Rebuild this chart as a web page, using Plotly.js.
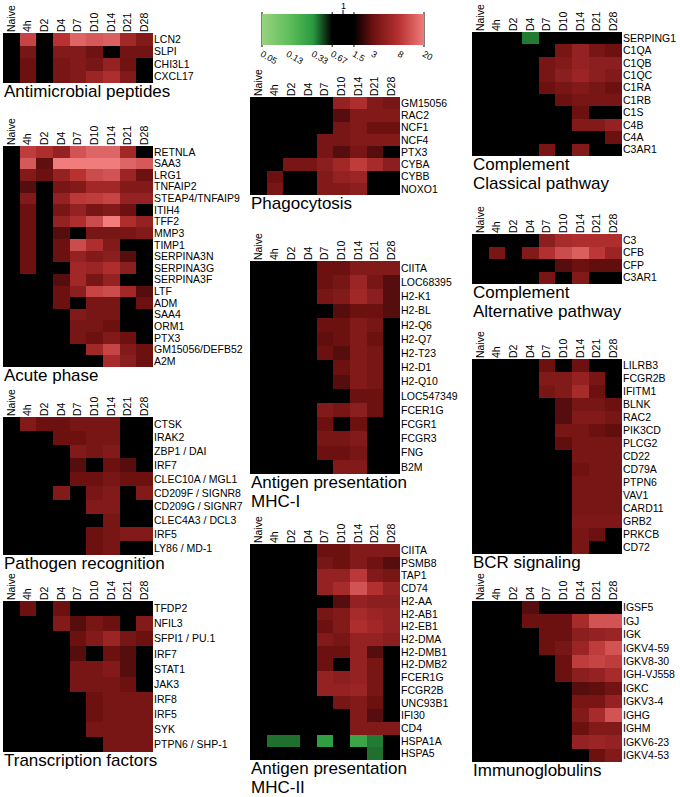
<!DOCTYPE html>
<html>
<head>
<meta charset="utf-8">
<script src="https://cdn.plot.ly/plotly-3.0.1.min.js"></script>
<style>
  html, body { margin: 0; padding: 0; background: #fff; }
  #chart { width: 680px; height: 797px; }
</style>
</head>
<body>
<div id="chart"></div>
<script>
// time points (columns of every heatmap)
const timepoints = ['Naive', '4h', 'D2', 'D4', 'D7', 'D10', 'D14', 'D21', 'D28'];

// fold change vs naive (1 = no change / black)
const amGenes = ['LCN2', 'SLPI', 'CHI3L1', 'CXCL17'];
const amFold = [
  [1, 10, 1, 8, 15, 13, 14, 6, 4],
  [1, 3.5, 1, 4, 4, 3.2, 1, 3.3, 3.3],
  [1, 3, 1, 3.5, 4, 3.5, 5, 3.2, 1],
  [1, 3, 1, 3.5, 4, 5.5, 7, 4, 1]
];

const apGenes = ['RETNLA', 'SAA3', 'LRG1', 'TNFAIP2', 'STEAP4/TNFAIP9', 'ITIH4', 'TFF2', 'MMP3', 'TIMP1',
  'SERPINA3N', 'SERPINA3G', 'SERPINA3F', 'LTF', 'ADM', 'SAA4', 'ORM1', 'PTX3', 'GM15056/DEFB52', 'A2M'];
const apFold = [
  [1, 9, 7, 5, 12, 15, 15, 6, 1],
  [1, 13, 2.8, 20, 20, 20, 20, 15, 13],
  [1, 4, 3, 5, 8, 11, 12, 5.5, 3],
  [1, 2.6, 1, 3.5, 4, 6, 6, 4, 4],
  [1, 4, 1, 5, 8.5, 9, 10, 5, 5],
  [1, 3, 1, 3.5, 5, 3.5, 4, 3, 1],
  [1, 3, 1, 5, 7, 11, 20, 7, 5],
  [1, 3, 1, 2.6, 1, 3.5, 3.5, 3.5, 4],
  [1, 3, 1, 3, 11, 7, 4, 1, 1],
  [1, 3, 1, 3, 5, 4, 4.5, 2.6, 1],
  [1, 3, 1, 1, 6, 5.5, 7, 4.5, 1],
  [1, 1, 1, 2.6, 6, 3.5, 5, 1, 1],
  [1, 1, 1, 3, 4.5, 10, 11, 6, 2.6],
  [1, 1, 1, 3, 1, 3.5, 3.5, 1, 3],
  [1, 1, 1, 1, 4, 3.5, 3.5, 1, 1],
  [1, 1, 1, 1, 3.5, 3.5, 3, 1, 1],
  [1, 1, 1, 1, 3.5, 3, 4, 3, 1],
  [1, 1, 1, 1, 1, 6, 10, 4, 3],
  [1, 1, 1, 1, 1, 1, 6.5, 4.5, 3]
];

const prGenes = ['CTSK', 'IRAK2', 'ZBP1 / DAI', 'IRF7', 'CLEC10A / MGL1', 'CD209F / SIGNR8',
  'CD209G / SIGNR7', 'CLEC4A3 / DCL3', 'IRF5', 'LY86 / MD-1'];
const prFold = [
  [1, 4, 3, 3, 3.5, 3.5, 3.5, 1, 1],
  [1, 1, 1, 3, 3, 3.5, 3.5, 1, 1],
  [1, 1, 1, 1, 4, 3.5, 4, 1, 1],
  [1, 1, 1, 1, 2.6, 1, 3, 2.6, 1],
  [1, 1, 1, 1, 3, 3, 3.5, 3, 3],
  [1, 1, 1, 4, 1, 3.5, 4, 1, 4],
  [1, 1, 1, 1, 1, 4, 4, 1, 1],
  [1, 1, 1, 1, 1, 1, 3.5, 1, 1],
  [1, 1, 1, 1, 1, 3, 3.5, 4, 4],
  [1, 1, 1, 1, 1, 3, 3.5, 1, 1]
];

const tfGenes = ['TFDP2', 'NFIL3', 'SFPI1 / PU.1', 'IRF7', 'STAT1', 'JAK3', 'IRF8', 'IRF5', 'SYK', 'PTPN6 / SHP-1'];
const tfFold = [
  [1, 3, 1, 3, 1, 1, 1, 1, 1],
  [1, 1, 1, 4, 2.6, 3.5, 3, 1, 4],
  [1, 1, 1, 1, 3, 4, 5.5, 3.5, 3],
  [1, 1, 1, 1, 2.6, 1, 3, 2.6, 1],
  [1, 1, 1, 1, 3.5, 3.5, 4, 2.6, 1],
  [1, 1, 1, 1, 3.5, 3.5, 3.5, 3, 1],
  [1, 1, 1, 1, 1, 3, 3.5, 3.5, 3.5],
  [1, 1, 1, 1, 1, 3, 3.5, 3.5, 3.5],
  [1, 1, 1, 1, 1, 3.5, 3.5, 3.5, 3.5],
  [1, 1, 1, 1, 1, 1, 3.5, 3.5, 3.5]
];

const phGenes = ['GM15056', 'RAC2', 'NCF1', 'NCF4', 'PTX3', 'CYBA', 'CYBB', 'NOXO1'];
const phFold = [
  [1, 1, 1, 1, 1, 5, 7, 4, 3.5],
  [1, 1, 1, 1, 1, 2.6, 4, 4, 4],
  [1, 1, 1, 1, 1, 3.5, 4, 3, 3],
  [1, 1, 1, 1, 3.5, 3.5, 4, 4, 4],
  [1, 1, 1, 1, 3.5, 2.6, 3.5, 2.6, 1],
  [1, 1, 3.5, 3.5, 4.5, 6, 9, 6.5, 4.5],
  [1, 3, 1, 1, 4, 5, 5.5, 1, 1],
  [1, 3.5, 1, 1, 4, 4, 4.5, 1, 1]
];

const m1Genes = ['CIITA', 'LOC68395', 'H2-K1', 'H2-BL', 'H2-Q6', 'H2-Q7', 'H2-T23', 'H2-D1', 'H2-Q10',
  'LOC547349', 'FCER1G', 'FCGR1', 'FCGR3', 'FNG', 'B2M'];
const m1Fold = [
  [1, 1, 1, 1, 3, 3, 4, 4, 4],
  [1, 1, 1, 1, 3, 3.5, 5.5, 3.5, 2.6],
  [1, 1, 1, 1, 3.5, 4, 6, 4.5, 2.6],
  [1, 1, 1, 1, 1, 2.6, 3, 3, 2.6],
  [1, 1, 1, 1, 3, 3, 4, 3.5, 1],
  [1, 1, 1, 1, 2.8, 3, 4, 3, 1],
  [1, 1, 1, 1, 3, 2.6, 4, 3.5, 1],
  [1, 1, 1, 1, 1, 3, 4, 3.5, 1],
  [1, 1, 1, 1, 1, 2.6, 4, 3.5, 1],
  [1, 1, 1, 1, 1, 1, 3, 3, 1],
  [1, 1, 1, 1, 4, 3.5, 4.5, 3, 1],
  [1, 1, 1, 1, 3, 1, 3, 1, 1],
  [1, 1, 1, 1, 3.5, 3.5, 4, 1, 1],
  [1, 1, 1, 1, 3, 3, 3.5, 1, 1],
  [1, 1, 1, 1, 1, 4, 4, 1, 1]
];

const m2Genes = ['CIITA', 'PSMB8', 'TAP1', 'CD74', 'H2-AA', 'H2-AB1', 'H2-EB1', 'H2-DMA', 'H2-DMB1',
  'H2-DMB2', 'FCER1G', 'FCGR2B', 'UNC93B1', 'IFI30', 'CD4', 'HSPA1A', 'HSPA5'];
const m2Fold = [
  [1, 1, 1, 1, 3, 3, 4, 4, 4],
  [1, 1, 1, 1, 3.5, 3, 4, 3.2, 2.6],
  [1, 1, 1, 1, 5, 5, 8.5, 4, 3.5],
  [1, 1, 1, 1, 5, 6.5, 12, 7.5, 5],
  [1, 1, 1, 1, 1, 2.6, 5, 4.5, 4.5],
  [1, 1, 1, 1, 3.5, 4, 6.5, 5.5, 5],
  [1, 1, 1, 1, 3, 4, 7, 6, 5],
  [1, 1, 1, 1, 4, 3.5, 5, 5, 4.5],
  [1, 1, 1, 1, 3, 3, 5, 2.6, 1],
  [1, 1, 1, 1, 3, 1, 5, 3.5, 1],
  [1, 1, 1, 1, 5, 4.5, 5, 3.5, 1],
  [1, 1, 1, 1, 5, 5, 5.5, 3.5, 1],
  [1, 1, 1, 1, 1, 3.5, 4, 3, 1],
  [1, 1, 1, 1, 1, 1, 4, 2.6, 1],
  [1, 1, 1, 1, 1, 1, 4, 4, 4],
  [1, 0.4, 0.4, 1, 0.3, 1, 0.25, 0.38, 1],
  [1, 1, 1, 1, 1, 1, 1, 0.4, 1]
];

const ccGenes = ['SERPING1', 'C1QA', 'C1QB', 'C1QC', 'C1RA', 'C1RB', 'C1S', 'C4B', 'C4A', 'C3AR1'];
const ccFold = [
  [1, 1, 1, 0.38, 1, 1, 1, 1, 1],
  [1, 1, 1, 1, 1, 3.5, 5, 3.5, 3],
  [1, 1, 1, 1, 3.5, 4, 5, 4.5, 4.5],
  [1, 1, 1, 1, 3.5, 4.5, 5.5, 4.5, 4],
  [1, 1, 1, 1, 3, 3.5, 4, 3.5, 3],
  [1, 1, 1, 1, 1, 3, 3.5, 3.5, 3.5],
  [1, 1, 1, 1, 1, 1, 3, 1, 1],
  [1, 1, 1, 1, 1, 1, 4, 4, 5],
  [1, 1, 1, 1, 1, 1, 1, 1, 3],
  [1, 1, 1, 1, 3.5, 1, 4, 1, 1]
];

const caGenes = ['C3', 'CFB', 'CFP', 'C3AR1'];
const caFold = [
  [1, 1, 1, 1, 4.5, 6.5, 7, 7, 7],
  [1, 3.5, 1, 4, 7.5, 11, 14, 8.5, 5.5],
  [1, 1, 1, 1, 1, 2.6, 3, 2.8, 2.8],
  [1, 1, 1, 1, 3.5, 1, 4, 1, 1]
];

const bcrGenes = ['LILRB3', 'FCGR2B', 'IFITM1', 'BLNK', 'RAC2', 'PIK3CD', 'PLCG2', 'CD22', 'CD79A',
  'PTPN6', 'VAV1', 'CARD11', 'GRB2', 'PRKCB', 'CD72'];
const bcrFold = [
  [1, 1, 1, 1, 3, 1, 3, 1, 1],
  [1, 1, 1, 1, 4, 4, 5, 3.5, 1],
  [1, 1, 1, 1, 3.5, 4, 6.5, 3, 1],
  [1, 1, 1, 1, 1, 2.6, 3.5, 3.5, 3],
  [1, 1, 1, 1, 1, 2.6, 4, 4, 3.5],
  [1, 1, 1, 1, 1, 3.5, 3.5, 3, 2.8],
  [1, 1, 1, 1, 1, 2.8, 3.5, 3.5, 3.5],
  [1, 1, 1, 1, 1, 1, 3.5, 3.5, 3.5],
  [1, 1, 1, 1, 1, 1, 3.2, 3.5, 3.5],
  [1, 1, 1, 1, 1, 1, 3.5, 3.5, 3.5],
  [1, 1, 1, 1, 1, 1, 3.5, 3.5, 3.5],
  [1, 1, 1, 1, 1, 1, 3.5, 3.5, 3.5],
  [1, 1, 1, 1, 1, 1, 3.8, 3.8, 3.8],
  [1, 1, 1, 1, 1, 1, 3.5, 3, 1],
  [1, 1, 1, 1, 1, 1, 3.5, 1, 1]
];

const igGenes = ['IGSF5', 'IGJ', 'IGK', 'IGKV4-59', 'IGKV8-30', 'IGH-VJ558', 'IGKC', 'IGKV3-4', 'IGHG',
  'IGHM', 'IGKV6-23', 'IGKV4-53'];
const igFold = [
  [1, 1, 1, 2.6, 1, 1, 1, 1, 1],
  [1, 1, 1, 3, 3, 3, 6.5, 12, 12],
  [1, 1, 1, 1, 3, 3, 4.5, 5, 5.5],
  [1, 1, 1, 1, 3, 3.5, 5.5, 9, 12],
  [1, 1, 1, 1, 1, 3, 9, 10, 9],
  [1, 1, 1, 1, 1, 3, 4.5, 5, 6.5],
  [1, 1, 1, 1, 1, 1, 2.6, 2.8, 3.3],
  [1, 1, 1, 1, 1, 1, 3.5, 3.5, 5],
  [1, 1, 1, 1, 1, 1, 4, 6.5, 12],
  [1, 1, 1, 1, 1, 1, 3, 4, 4],
  [1, 1, 1, 1, 1, 1, 5, 5.5, 5],
  [1, 1, 1, 1, 1, 1, 1, 3, 4]
];

const cbTicks = [0.05, 0.13, 0.33, 0.67, 1.5, 3, 8, 20];

// ---- layout (pixels) ----
const W = 680, H = 797;
const FONT = 'Liberation Sans, Arial, sans-serif';
const LMIN = Math.log10(0.05), LMAX = Math.log10(20);
const pos = v => (Math.log10(v) - LMIN) / (LMAX - LMIN);

const panels = [
  { genes: amGenes, fold: amFold, x0: 3, y0: 33, y1: 83, title: ['Antimicrobial peptides'] },
  { genes: apGenes, fold: apFold, x0: 3, y0: 146, y1: 367, title: ['Acute phase'] },
  { genes: prGenes, fold: prFold, x0: 3, y0: 417, y1: 555, title: ['Pathogen recognition'] },
  { genes: tfGenes, fold: tfFold, x0: 3, y0: 601, y1: 752, title: ['Transcription factors'] },
  { genes: phGenes, fold: phFold, x0: 250, y0: 97, y1: 195, title: ['Phagocytosis'] },
  { genes: m1Genes, fold: m1Fold, x0: 250, y0: 261, y1: 474, title: ['Antigen presentation', 'MHC-I'] },
  { genes: m2Genes, fold: m2Fold, x0: 250, y0: 544, y1: 760, title: ['Antigen presentation', 'MHC-II'] },
  { genes: ccGenes, fold: ccFold, x0: 472, y0: 32, y1: 156, title: ['Complement', 'Classical pathway'] },
  { genes: caGenes, fold: caFold, x0: 472, y0: 234, y1: 284, title: ['Complement', 'Alternative pathway'] },
  { genes: bcrGenes, fold: bcrFold, x0: 472, y0: 359, y1: 554, title: ['BCR signaling'] },
  { genes: igGenes, fold: igFold, x0: 472, y0: 601, y1: 762, title: ['Immunoglobulins'] }
];
const HM_W = 150;
const TITLE_LINE = 19;

const data = [];
const layout = {
  width: W, height: H,
  margin: { l: 0, r: 0, t: 0, b: 0 },
  paper_bgcolor: '#fff', plot_bgcolor: '#000',
  showlegend: false,
  font: { family: FONT, color: '#000', size: 10.5 },
  coloraxis: {
    cmin: LMIN, cmax: LMAX,
    colorscale: [
      [pos(0.05), '#98d37f'],
      [pos(0.13), '#62c05c'],
      [pos(0.33), '#2a9a40'],
      [pos(0.67), '#000000'],
      [pos(1.5), '#000000'],
      [pos(3), '#6c1010'],
      [pos(8), '#b83232'],
      [pos(20), '#f07c7c']
    ],
    colorbar: {
      orientation: 'h',
      x: 343 / W, xanchor: 'center',
      y: 1 - 14 / H, yanchor: 'top',
      len: 162, lenmode: 'pixels',
      thickness: 31, thicknessmode: 'pixels',
      xpad: 0, ypad: 0,
      outlinewidth: 0,
      tickmode: 'array',
      tickvals: cbTicks.map(v => Math.log10(v)),
      ticktext: cbTicks.map(String),
      ticks: '',
      tickfont: { size: 9, family: FONT }
    }
  },
  annotations: [],
  shapes: []
};

panels.forEach((p, i) => {
  const n = i === 0 ? '' : String(i + 1);
  data.push({
    type: 'heatmap',
    x: timepoints,
    y: p.genes,
    z: p.fold.map(row => row.map(v => Math.log10(v))),
    coloraxis: 'coloraxis',
    xaxis: 'x' + n,
    yaxis: 'y' + n,
    hoverinfo: 'skip'
  });
  layout['xaxis' + n] = {
    domain: [p.x0 / W, (p.x0 + HM_W) / W],
    anchor: 'y' + n,
    side: 'top',
    type: 'category',
    tickmode: 'array', tickvals: timepoints, ticktext: timepoints,
    tickangle: -90,
    ticks: '', showgrid: false, zeroline: false, showline: false,
    tickfont: { size: 10.5 },
    fixedrange: true
  };
  layout['yaxis' + n] = {
    domain: [1 - p.y1 / H, 1 - p.y0 / H],
    anchor: 'x' + n,
    side: 'right',
    type: 'category',
    autorange: 'reversed',
    tickmode: 'array', tickvals: p.genes, ticktext: p.genes,
    ticks: '', showgrid: false, zeroline: false, showline: false,
    tickfont: { size: 10.5 },
    fixedrange: true
  };
  p.title.forEach((line, k) => {
    layout.annotations.push({
      xref: 'paper', yref: 'paper',
      x: p.x0 / W, y: 1 - (p.y1 - 2 + k * TITLE_LINE) / H,
      xanchor: 'left', yanchor: 'top', align: 'left',
      text: line, showarrow: false, borderpad: 0,
      font: { size: 17, family: FONT, color: '#000' }
    });
  });
});

// colourbar decorations: the "1" mark and the edge lines of the black band
const cbLeft = 262, cbLen = 162;
[0.05, 0.67, 1.5, 20].forEach(v => {
  const px = cbLeft + cbLen * pos(v);
  layout.shapes.push({
    type: 'line', xref: 'paper', yref: 'paper',
    x0: px / W, x1: px / W, y0: 1 - 12 / H, y1: 1 - 47 / H,
    line: { color: '#000', width: 1 }
  });
});
layout.shapes.push({
  type: 'line', xref: 'paper', yref: 'paper',
  x0: 343 / W, x1: 343 / W, y0: 1 - 10 / H, y1: 1 - 14 / H,
  line: { color: '#000', width: 1 }
});
layout.annotations.push({
  xref: 'paper', yref: 'paper', x: 343 / W, y: 1 - 6 / H,
  xanchor: 'center', yanchor: 'middle', text: '1', showarrow: false, borderpad: 0,
  font: { size: 9, family: FONT }
});

Plotly.newPlot('chart', data, layout, { staticPlot: true, displayModeBar: false });
</script>
</body>
</html>
